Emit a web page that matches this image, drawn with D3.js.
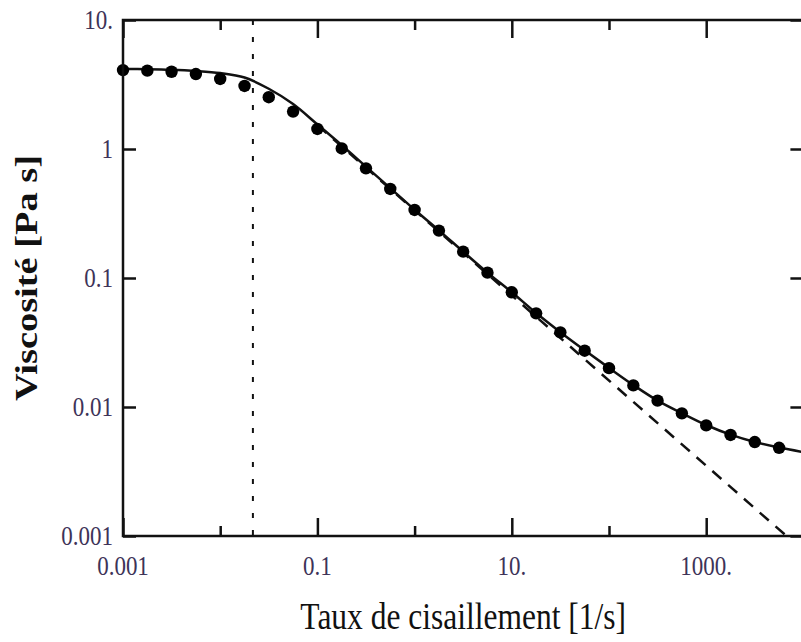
<!DOCTYPE html>
<html>
<head>
<meta charset="utf-8">
<script src="https://cdn.jsdelivr.net/npm/d3@7"></script>
<style>
  html, body { margin: 0; padding: 0; background: #fff; }
  svg { display: block; }
</style>
</head>
<body>
<svg id="chart" width="801" height="642"></svg>
<script>
// ---- data ----
const shearRate = [0.001, 0.00178, 0.00316, 0.00562, 0.01, 0.0178, 0.0316, 0.0562,
  0.1, 0.178, 0.316, 0.562, 1, 1.78, 3.16, 5.62, 10, 17.8, 31.6, 56.2,
  100, 178, 316, 562, 1000, 1780, 3160, 5620];
const viscosity = [4.09, 4.05, 3.97, 3.81, 3.49, 3.08, 2.52, 1.95,
  1.43, 1.01, 0.708, 0.490, 0.337, 0.233, 0.160, 0.110, 0.0775, 0.0532, 0.0379, 0.0273,
  0.0200, 0.0147, 0.0112, 0.00893, 0.00721, 0.00607, 0.00535, 0.00483];

const fitRate = [0.001, 0.00178, 0.00316, 0.00562, 0.01, 0.0178, 0.0316, 0.0562,
  0.1, 0.178, 0.316, 0.562, 1, 1.78, 3.16, 5.62, 10, 17.8, 31.6, 56.2,
  100, 178, 316, 562, 1000, 1780, 3160, 5620, 9550];
const fitViscosity = [4.17, 4.16, 4.12, 4.03, 3.88, 3.58, 2.93, 2.23,
  1.55, 1.07, 0.73, 0.497, 0.338, 0.234, 0.160, 0.110, 0.0775, 0.0535, 0.0380, 0.0275,
  0.0201, 0.0148, 0.0112, 0.00895, 0.00725, 0.0061, 0.00535, 0.00485, 0.0045];

const powerLawRate = [0.1, 6700];
const powerLawViscosity = [1.53, 0.001];

const criticalRate = 0.0217;

const xMajorTicks = [0.001, 0.1, 10, 1000];
const xMajorLabels = ["0.001", "0.1", "10.", "1000."];
const xMinorTicks = [0.01, 1, 100, 10000];
const yTicks = [10, 1, 0.1, 0.01, 0.001];
const yLabels = ["10.", "1", "0.1", "0.01", "0.001"];

const xTitle = "Taux de cisaillement [1/s]";
const yTitle = "Viscosité [Pa s]";

// ---- layout ----
const L = 123, R = 803.4, T = 20, B = 536;
const svg = d3.select("#chart");

const x = d3.scaleLog().domain([0.001, 10000]).range([L, R]);
const y = d3.scaleLog().domain([0.001, 10]).range([B, T]);

const ink = "#111";
const labelColor = "#3d3358";

svg.append("defs").append("clipPath").attr("id", "plotClip")
  .append("rect").attr("x", L).attr("y", T).attr("width", R - L).attr("height", B - T);

const plot = svg.append("g").attr("clip-path", "url(#plotClip)");

// dotted vertical marker
plot.append("line")
  .attr("x1", x(criticalRate)).attr("x2", x(criticalRate))
  .attr("y1", T).attr("y2", B)
  .attr("stroke", ink).attr("stroke-width", 2)
  .attr("stroke-dasharray", "5,12");

// power-law asymptote (dashed)
const plData = powerLawRate.map((r, i) => [r, powerLawViscosity[i]]);
plot.append("path")
  .datum(plData)
  .attr("d", d3.line().x(d => x(d[0])).y(d => y(d[1])))
  .attr("fill", "none").attr("stroke", ink).attr("stroke-width", 2.5)
  .attr("stroke-dasharray", "12,9");

// fitted curve
const fitData = fitRate.map((r, i) => [r, fitViscosity[i]]);
plot.append("path")
  .datum(fitData)
  .attr("d", d3.line().x(d => x(d[0])).y(d => y(d[1])).curve(d3.curveCatmullRom.alpha(0.5)))
  .attr("fill", "none").attr("stroke", ink).attr("stroke-width", 2.5);

// data points
const pts = shearRate.map((r, i) => [r, viscosity[i]]);
svg.append("g").selectAll("circle").data(pts).join("circle")
  .attr("cx", d => x(d[0])).attr("cy", d => y(d[1])).attr("r", 6.2)
  .attr("fill", "#000");

// ---- axes (inward ticks) ----
function styleAxis(g) {
  g.select(".domain").remove();
  g.selectAll(".tick line").attr("stroke", ink).attr("stroke-width", 2.5);
  g.selectAll(".tick text").remove();
}
svg.append("g").attr("transform", `translate(0,${B})`)
  .call(d3.axisBottom(x).tickValues(xMajorTicks).tickSize(-18)).call(styleAxis);
svg.append("g").attr("transform", `translate(0,${B})`)
  .call(d3.axisBottom(x).tickValues(xMinorTicks).tickSize(-10)).call(styleAxis);
svg.append("g").attr("transform", `translate(0,${T})`)
  .call(d3.axisTop(x).tickValues(xMajorTicks).tickSize(-18)).call(styleAxis);
svg.append("g").attr("transform", `translate(0,${T})`)
  .call(d3.axisTop(x).tickValues(xMinorTicks).tickSize(-10)).call(styleAxis);
svg.append("g").attr("transform", `translate(${L},0)`)
  .call(d3.axisLeft(y).tickValues(yTicks).tickSize(-13)).call(styleAxis);
svg.append("g").attr("transform", `translate(${R},0)`)
  .call(d3.axisRight(y).tickValues(yTicks).tickSize(-13)).call(styleAxis);

// frame
svg.append("rect").attr("x", L).attr("y", T).attr("width", R - L).attr("height", B - T)
  .attr("fill", "none").attr("stroke", ink).attr("stroke-width", 2.5);

// tick labels
const font = "'Liberation Serif', 'Times New Roman', serif";
svg.append("g").selectAll("text").data(xMajorTicks).join("text")
  .attr("transform", d => `translate(${x(d)},566) scale(1,1.2)`)
  .attr("dy", "0.34em")
  .attr("text-anchor", "middle")
  .attr("font-family", font).attr("font-size", 23).attr("fill", labelColor)
  .text((d, i) => xMajorLabels[i]);

svg.append("g").selectAll("text").data(yTicks).join("text")
  .attr("transform", d => `translate(113,${y(d)}) scale(1,1.2)`)
  .attr("dy", "0.34em")
  .attr("text-anchor", "end")
  .attr("font-family", font).attr("font-size", 23).attr("fill", labelColor)
  .text((d, i) => yLabels[i]);

// axis titles
svg.append("text")
  .attr("transform", `translate(${(L + R) / 2},629) scale(1,1.2)`)
  .attr("text-anchor", "middle")
  .attr("font-family", font).attr("font-size", 31.5).attr("fill", ink)
  .text(xTitle);

svg.append("text")
  .attr("transform", `translate(37,${(T + B) / 2}) rotate(-90) scale(1.2,1)`)
  .attr("text-anchor", "middle")
  .attr("font-family", font).attr("font-weight", "bold").attr("font-size", 32).attr("fill", ink)
  .text(yTitle);
</script>
</body>
</html>
